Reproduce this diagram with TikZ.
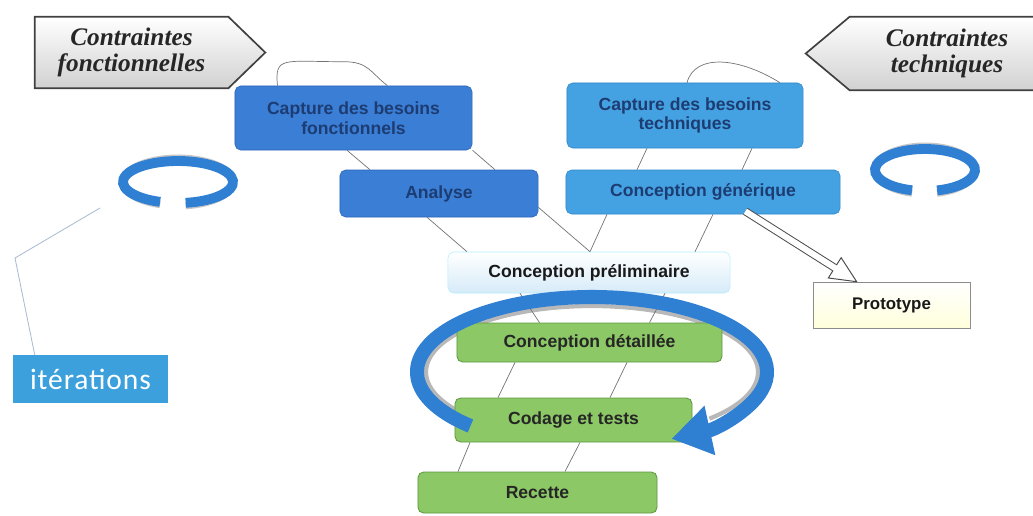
\documentclass[tikz,border=0pt]{standalone}
\usepackage{fontspec}
\setmainfont{Liberation Sans}
\newfontfamily\ctrfont{Liberation Serif}
\newfontfamily\itfont{Carlito}
\usepackage{xcolor}
\usepackage{tikz}
\usetikzlibrary{arrows.meta,calc,backgrounds}

\definecolor{fbleu}{HTML}{3A7ED6}
\definecolor{fbord}{HTML}{2A64B8}
\definecolor{tbleu}{HTML}{45A2E2}
\definecolor{tbord}{HTML}{2C86C8}
\definecolor{navy}{HTML}{1D3C72}
\definecolor{vert}{HTML}{8DC866}
\definecolor{vbord}{HTML}{5C9841}
\definecolor{pale}{HTML}{D6EBF8}
\definecolor{boucle}{HTML}{2F7FD3}
\definecolor{itbleu}{HTML}{3BA0DC}
\definecolor{itlien}{HTML}{A9BCD0}

\begin{document}
\begin{tikzpicture}[
  x=0.025cm, y=-0.025cm,
  box/.style={draw, rounded corners=4pt, align=center, inner sep=0pt, font=\bfseries\fontsize{12.5}{14}\selectfont},
  fbox/.style={box, fill=fbleu, draw=fbord, text=navy},
  tbox/.style={box, fill=tbleu, draw=tbord, text=navy},
  vbox/.style={box, fill=vert, draw=vbord, line width=0.6pt, text=black!85},
  ctr/.style={align=center, inner sep=0pt, text=black!85, font=\ctrfont\bfseries\itshape\fontsize{18}{18}\selectfont},
  penta/.style={draw=black!75, line width=1.2pt, top color=white, bottom color=black!18},
  lien/.style={draw=black!55, line width=0.5pt},
  anneau/.style={line width=7pt, draw=boucle}
]
  \useasboundingbox (0,0) rectangle (1033,515);

  % constraints
  \node[ctr, minimum width=4.825cm, minimum height=1.775cm] (cfl) at (131.5,52.5) {Contraintes\\fonctionnelles};
  \node[ctr, minimum width=4.85cm, minimum height=1.825cm] (ctech) at (947,53.5) {Contraintes\\techniques};
  \begin{scope}[on background layer]
    \draw[penta] (cfl.north west) -- (cfl.north east) -- ($(cfl.east)+(37,0)$) -- (cfl.south east) -- (cfl.south west) -- cycle;
    \draw[penta] (ctech.north east) -- (ctech.north west) -- ($(ctech.west)+(-44,0)$) -- (ctech.south west) -- (ctech.south east) -- cycle;
  \end{scope}

  % the two branches and the trunk
  \node[fbox, minimum width=5.925cm, minimum height=1.6cm] (cf) at (353.5,118) {Capture des besoins\\fonctionnels};
  \node[fbox, minimum width=4.95cm, minimum height=1.175cm] (ana) at (439,193.5) {Analyse};
  \node[tbox, minimum width=5.9cm, minimum height=1.625cm] (ct) at (685,115.5) {Capture des besoins\\techniques};
  \node[tbox, minimum width=6.85cm, minimum height=1.1cm] (cg) at (703,192) {Conception générique};
  \node[box, draw=blue!25!cyan!30, top color=white, bottom color=pale, text=black!90, minimum width=7.05cm, minimum height=1.025cm] (cp) at (589,272.5) {Conception préliminaire};
  \node[box, rounded corners=0pt, draw=black!45, top color=white, bottom color=yellow!14, text=black!90, font=\bfseries\fontsize{12}{14}\selectfont, minimum width=3.925cm, minimum height=1.15cm] (proto) at (891.5,305) {Prototype};
  \node[vbox, minimum width=6.625cm, minimum height=0.975cm] (cd) at (589.5,342.5) {Conception détaillée};
  \node[vbox, minimum width=5.925cm, minimum height=1.1cm] (cod) at (573.5,420) {Codage et tests};
  \node[vbox, minimum width=5.975cm, minimum height=1.025cm] (rec) at (537.5,492.5) {Recette};
  \node[fill=itbleu, text=white, inner sep=0pt, font=\itfont\fontsize{21}{24}\selectfont\addfontfeature{LetterSpace=3}, minimum width=3.875cm, minimum height=1.2cm] (it) at (90.5,379) {itérations};

  % links
  \draw[lien] ($(cf.north)+(-76,0)$) .. controls +(-3,-30) and +(-60,0) .. ($(cf.north)+(-10,-24)$) .. controls +(25,0) and +(-18,-14) .. ($(cf.north)+(34,0)$);
  \draw[lien] ($(ct.north)+(2,0)$) .. controls +(8,-30) and +(-40,-25) .. ($(ct.north)+(95,0)$);
  \draw[lien] ($(cf.south)+(-6.5,0)$) -- ($(ana.north)+(-69,0)$);
  \draw[lien] ($(cf.south)+(119,0)$) -- ($(ana.north)+(56,0)$);
  \draw[lien] ($(ana.south)+(-12,0)$) -- ($(cp.north)+(-122,0)$);
  \draw[lien] ($(ana.south east)+(0,-10)$) -- ($(cp.north)+(1,0)$);
  \draw[lien] ($(ct.south)+(-38,0)$) -- ($(cg.north)+(-66,0)$);
  \draw[lien] ($(ct.south)+(67,0)$) -- ($(cg.north)+(39,0)$);
  \draw[lien] ($(cg.south)+(-96,0)$) -- ($(cp.north)+(1,0)$);
  \draw[lien] ($(cg.south)+(10,0)$) -- ($(cp.north)+(106,0)$);
  \draw[lien] ($(cp.south)+(-69,0)$) -- ($(cd.north)+(-50,0)$);
  \draw[lien] ($(cp.south)+(76,0)$) -- ($(cd.north)+(60,0)$);
  \draw[lien] ($(cd.south)+(-74.5,0)$) -- ($(cod.north)+(-75.5,0)$);
  \draw[lien] ($(cd.south)+(37.5,0)$) -- ($(cod.north)+(36.5,0)$);
  \draw[lien] ($(cod.south)+(-103.5,0)$) -- ($(rec.north)+(-79.5,0)$);
  \draw[lien] ($(cod.south)+(6.5,0)$) -- ($(rec.north)+(27.5,0)$);

  % small loops
  \coordinate (ringL) at (178,182);
  \coordinate (ringR) at (925,170);
  \draw[line width=5pt, black!22] (ringL) ++(109:55 and 24) arc[start angle=109, end angle=442, x radius=55, y radius=24];
  \draw[anneau] (ringL) ++(109:55 and 21) arc[start angle=109, end angle=442, x radius=55, y radius=21];
  \draw[line width=5pt, black!22] (ringR) ++(105:50 and 24) arc[start angle=105, end angle=436, x radius=50, y radius=24];
  \draw[anneau] (ringR) ++(105:50 and 21) arc[start angle=105, end angle=436, x radius=50, y radius=21];
  \draw[draw=itlien, line width=0.6pt] ($(ringL)+(-78,26)$) -- ++(-85,50) -- ($(it.north west)+(22,0)$);

  % prototype arrow
  \coordinate (hs) at ($(cg.south east)+(-95,-3)$);
  \coordinate (ht) at ($(proto.north west)+(44,0)$);
  \coordinate (hb) at ($(ht)!0.65cm!(hs)$);
  \draw[line width=5.7pt, black!70] (hs) -- (hb);
  \filldraw[fill=white, draw=black!70, line width=0.7pt] ($(hb)!0.3cm!90:(ht)$) -- (ht) -- ($(hb)!0.3cm!-90:(ht)$) -- cycle;
  \draw[line width=4.3pt, white] (hs) -- ($(hb)!-2pt!(hs)$);

  % big iteration loop
  \coordinate (centre) at (592,372);
  \begin{scope}[on background layer]
    \draw[line width=3pt, black!28] (centre) ++(140:166 and 66) arc[start angle=140, end angle=405, x radius=166, y radius=66];
  \end{scope}
  \draw[line width=10pt, boucle, -{Triangle[length=28pt, width=34pt]}] (centre) ++(134:175 and 75) arc[start angle=134, end angle=423, x radius=175, y radius=75];
\end{tikzpicture}
\end{document}
